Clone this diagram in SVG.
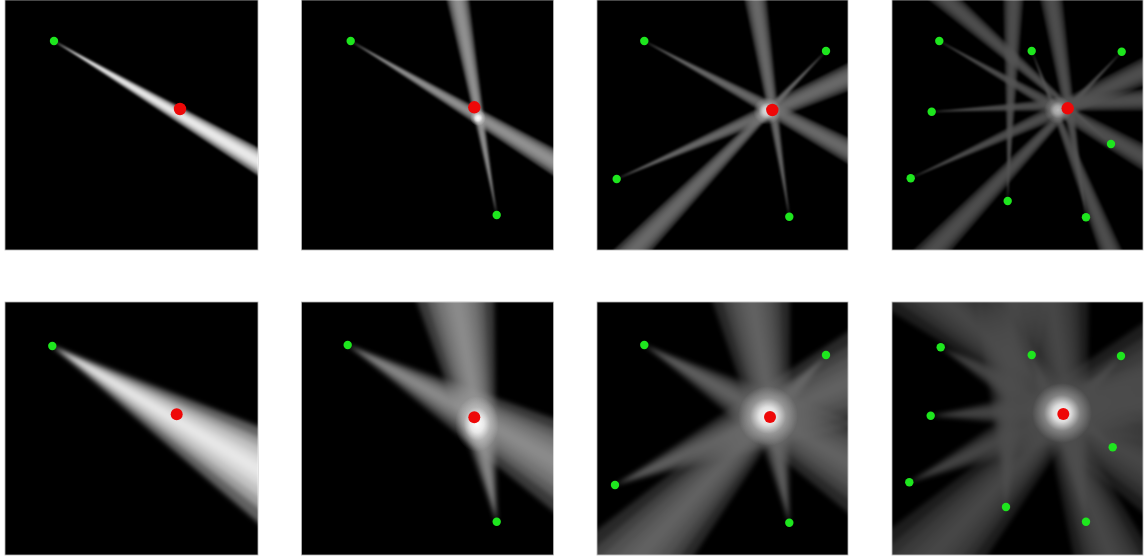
<svg xmlns="http://www.w3.org/2000/svg" xmlns:xlink="http://www.w3.org/1999/xlink" width="1147" height="560" viewBox="0 0 1147 560">
<style>
.panel{fill:#000;stroke:#b5b5b5;stroke-width:0.8}
.g{fill:#1ee61e}
.r{fill:#ee0808}
.ray polygon{fill:#fff}
</style>
<defs>
<filter id="bl" x="-20%" y="-50%" width="140%" height="200%"><feGaussianBlur stdDeviation="1"/></filter>
<filter id="bw" x="-20%" y="-50%" width="140%" height="200%"><feGaussianBlur stdDeviation="2.5"/></filter>
<g id="bn" class="ray">
<polygon points="0,0 600,-30 600,30" fill-opacity="0.45"/>
<polygon points="0,0 600,-22 600,22" fill-opacity="0.45"/>
<polygon points="0,0 600,-15 600,15" fill-opacity="0.45"/>
<polygon points="0,0 600,-8 600,8" fill-opacity="0.45"/>
</g>
<g id="bw0" class="ray">
<polygon points="0,0 600,-102 600,102" fill-opacity="0.38"/>
<polygon points="0,0 600,-75 600,75" fill-opacity="0.38"/>
<polygon points="0,0 600,-54 600,54" fill-opacity="0.38"/>
<polygon points="0,0 600,-33 600,33" fill-opacity="0.38"/>
<polygon points="0,0 600,-15 600,15" fill-opacity="0.38"/>
</g>
<radialGradient id="glow">
<stop offset="0" stop-color="#fff" stop-opacity="1"/>
<stop offset="0.3" stop-color="#fff" stop-opacity="0.8"/>
<stop offset="0.6" stop-color="#fff" stop-opacity="0.3"/>
<stop offset="1" stop-color="#fff" stop-opacity="0"/>
</radialGradient>
<clipPath id="c1"><rect x="5" y="0" width="253" height="250"/></clipPath>
<clipPath id="c2"><rect x="301.5" y="0" width="252" height="250"/></clipPath>
<clipPath id="c3"><rect x="597" y="0" width="251" height="250"/></clipPath>
<clipPath id="c4"><rect x="892" y="0" width="251" height="250"/></clipPath>
<clipPath id="c5"><rect x="5" y="302" width="253" height="253"/></clipPath>
<clipPath id="c6"><rect x="301.5" y="302" width="252" height="253"/></clipPath>
<clipPath id="c7"><rect x="597" y="302" width="251" height="253"/></clipPath>
<clipPath id="c8"><rect x="892" y="302" width="251" height="253"/></clipPath>
</defs>
<rect width="1147" height="560" fill="#fff"/>

<g id="panel1">
<rect class="panel" x="5" y="0" width="253" height="250"/>
<g clip-path="url(#c1)" filter="url(#bl)">
<use href="#bn" transform="translate(54,41) rotate(30.5)"/>
</g>
<circle class="g" cx="54" cy="41" r="4.2"/>
<circle class="r" cx="180" cy="109" r="6.2"/>
</g>

<g id="panel2">
<rect class="panel" x="301.5" y="0" width="252" height="250"/>
<g clip-path="url(#c2)">
<g opacity="0.62" filter="url(#bl)">
<use href="#bn" transform="translate(350.7,41) rotate(30.7)"/>
<use href="#bn" transform="translate(496.7,215) rotate(-100.2)"/>
</g>
<circle cx="478" cy="118" r="8" fill="url(#glow)"/>
</g>
<circle class="g" cx="350.7" cy="41" r="4.2"/>
<circle class="g" cx="496.7" cy="215" r="4.2"/>
<circle class="r" cx="474.3" cy="107.3" r="6.2"/>
</g>

<g id="panel3">
<rect class="panel" x="597" y="0" width="251" height="250"/>
<g clip-path="url(#c3)">
<g opacity="0.45" filter="url(#bl)">
<use href="#bn" transform="translate(644.3,41) rotate(28.2)"/>
<use href="#bn" transform="translate(826,51) rotate(134)"/>
<use href="#bn" transform="translate(616.7,179) rotate(-23.7)"/>
<use href="#bn" transform="translate(789.3,216.7) rotate(-98.8)"/>
</g>
<circle cx="767" cy="111" r="14" fill="url(#glow)" opacity="0.8"/>
</g>
<circle class="g" cx="644.3" cy="41" r="4.2"/>
<circle class="g" cx="826" cy="51" r="4.2"/>
<circle class="g" cx="616.7" cy="179" r="4.2"/>
<circle class="g" cx="789.3" cy="216.7" r="4.2"/>
<circle class="r" cx="772.3" cy="110" r="6.2"/>
</g>

<g id="panel4">
<rect class="panel" x="892" y="0" width="251" height="250"/>
<g clip-path="url(#c4)">
<g opacity="0.33" filter="url(#bl)">
<use href="#bn" transform="translate(939.3,41) rotate(29.6)"/>
<use href="#bn" transform="translate(1031.7,51) rotate(68.5)"/>
<use href="#bn" transform="translate(1121.7,51.7) rotate(133.5)"/>
<use href="#bn" transform="translate(931.7,111.7) rotate(-3.2)"/>
<use href="#bn" transform="translate(1111,144) rotate(-138.8)"/>
<use href="#bn" transform="translate(910.7,178.3) rotate(-24.6)"/>
<use href="#bn" transform="translate(1007.7,201) rotate(-88.4)"/>
<use href="#bn" transform="translate(1086,217.3) rotate(-99)"/>
</g>
<circle cx="1058" cy="110" r="14" fill="url(#glow)" opacity="0.6"/>
</g>
<circle class="g" cx="939.3" cy="41" r="4.2"/>
<circle class="g" cx="1031.7" cy="51" r="4.2"/>
<circle class="g" cx="1121.7" cy="51.7" r="4.2"/>
<circle class="g" cx="931.7" cy="111.7" r="4.2"/>
<circle class="g" cx="1111" cy="144" r="4.2"/>
<circle class="g" cx="910.7" cy="178.3" r="4.2"/>
<circle class="g" cx="1007.7" cy="201" r="4.2"/>
<circle class="g" cx="1086" cy="217.3" r="4.2"/>
<circle class="r" cx="1067.7" cy="108.3" r="6.2"/>
</g>

<g id="panel5">
<rect class="panel" x="5" y="302" width="253" height="253"/>
<g clip-path="url(#c5)" filter="url(#bw)">
<use href="#bw0" transform="translate(52.3,346) rotate(31)"/>
</g>
<circle class="g" cx="52.3" cy="346" r="4.2"/>
<circle class="r" cx="176.7" cy="414.3" r="6"/>
</g>

<g id="panel6">
<rect class="panel" x="301.5" y="302" width="252" height="253"/>
<g clip-path="url(#c6)">
<g opacity="0.6" filter="url(#bw)">
<use href="#bw0" transform="translate(347.7,345) rotate(29.3)"/>
<use href="#bw0" transform="translate(496.7,521.7) rotate(-100.3)"/>
</g>
<ellipse cx="477" cy="424" rx="22" ry="28" fill="url(#glow)"/>
</g>
<circle class="g" cx="347.7" cy="345" r="4.2"/>
<circle class="g" cx="496.7" cy="521.7" r="4.2"/>
<circle class="r" cx="474.3" cy="417.3" r="6"/>
</g>

<g id="panel7">
<rect class="panel" x="597" y="302" width="251" height="253"/>
<g clip-path="url(#c7)">
<g opacity="0.42" filter="url(#bw)">
<use href="#bw0" transform="translate(644.3,345) rotate(29.8)"/>
<use href="#bw0" transform="translate(826,355) rotate(133)"/>
<use href="#bw0" transform="translate(615,485) rotate(-23.7)"/>
<use href="#bw0" transform="translate(789.3,522.7) rotate(-99.5)"/>
</g>
<circle cx="768" cy="416" r="30" fill="url(#glow)"/>
</g>
<circle class="g" cx="644.3" cy="345" r="4.2"/>
<circle class="g" cx="826" cy="355" r="4.2"/>
<circle class="g" cx="615" cy="485" r="4.2"/>
<circle class="g" cx="789.3" cy="522.7" r="4.2"/>
<circle class="r" cx="770" cy="417" r="6"/>
</g>

<g id="panel8">
<rect class="panel" x="892" y="302" width="251" height="253"/>
<g clip-path="url(#c8)">
<g opacity="0.3" filter="url(#bw)">
<use href="#bw0" transform="translate(940.7,347.3) rotate(29.6)"/>
<use href="#bw0" transform="translate(1031.7,355) rotate(68.5)"/>
<use href="#bw0" transform="translate(1121,356) rotate(133.5)"/>
<use href="#bw0" transform="translate(930.7,415.7) rotate(-3.2)"/>
<use href="#bw0" transform="translate(1112.7,447.3) rotate(-138.8)"/>
<use href="#bw0" transform="translate(909.3,482.3) rotate(-24.6)"/>
<use href="#bw0" transform="translate(1006,507) rotate(-88.4)"/>
<use href="#bw0" transform="translate(1086,521.7) rotate(-99)"/>
</g>
<circle cx="1062" cy="413" r="30" fill="url(#glow)"/>
</g>
<circle class="g" cx="940.7" cy="347.3" r="4.2"/>
<circle class="g" cx="1031.7" cy="355" r="4.2"/>
<circle class="g" cx="1121" cy="356" r="4.2"/>
<circle class="g" cx="930.7" cy="415.7" r="4.2"/>
<circle class="g" cx="1112.7" cy="447.3" r="4.2"/>
<circle class="g" cx="909.3" cy="482.3" r="4.2"/>
<circle class="g" cx="1006" cy="507" r="4.2"/>
<circle class="g" cx="1086" cy="521.7" r="4.2"/>
<circle class="r" cx="1063.3" cy="414" r="6"/>
</g>
</svg>
